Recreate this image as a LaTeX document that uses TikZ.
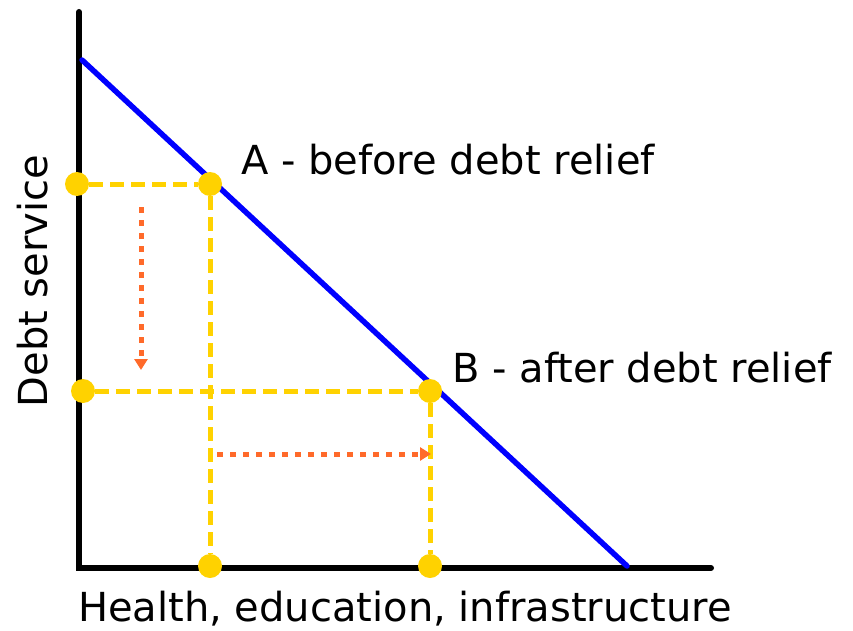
\documentclass[tikz,border=0pt]{standalone}
\usepackage{fontspec}
\setmainfont{DejaVu Sans}
\usetikzlibrary{arrows.meta}
\definecolor{gold}{HTML}{FFD200}
\definecolor{orng}{HTML}{FF6A2A}
\definecolor{bluel}{HTML}{0000FF}
\begin{document}
\begin{tikzpicture}[x=1pt,y=-1pt,
  axis/.style={line width=6pt,line cap=round,black},
  demand/.style={line width=5.5pt,line cap=round,bluel},
  guide/.style={line width=5pt,gold,dash pattern=on 14pt off 7pt},
  dot/.style={circle,fill=gold,inner sep=0pt,minimum size=24pt},
  movearrow/.style={line width=5pt,orng,dash pattern=on 6pt off 7pt,-{Triangle[length=11pt,width=13pt]}},
  lbl/.style={font=\fontsize{40}{44}\selectfont,inner sep=0pt}]
\useasboundingbox (0,0) rectangle (853,631);
\coordinate (O) at (79,568);
\coordinate (ytop) at (79,12);
\coordinate (xend) at (711,568);
\coordinate (l1) at (82,60);
\coordinate (l2) at (627,566);
\draw[axis] (ytop) -- (O) -- (xend);
\draw[demand] (l1) -- (l2);
\node[dot] (A) at (210,184) {};
\node[dot] (Ay) at (77,184) {};
\node[dot] (Ax) at (210,566) {};
\node[dot] (B) at (430,391) {};
\node[dot] (By) at (83,391) {};
\node[dot] (Bx) at (430,566) {};
\draw[guide] (Ay) -- (A);
\draw[guide] (A) -- (Ax);
\draw[guide] (By) -- (B);
\draw[guide] (B) -- (Bx);
\coordinate (v1) at (141,207);
\coordinate (v2) at (141,370);
\coordinate (h1) at (217,454);
\coordinate (h2) at (431,454);
\draw[movearrow] (v1) -- (v2);
\draw[movearrow] (h1) -- (h2);
\node[lbl,anchor=base west] (tA) at (241,175) {A - before debt relief};
\node[lbl,anchor=base west] (tB) at (452,382) {B - after debt relief};
\node[lbl,anchor=center,rotate=90] (ty) at (33,281) {Debt service};
\node[lbl,anchor=base] (tx) at (405,621) {Health, education, infrastructure};
\end{tikzpicture}
\end{document}
